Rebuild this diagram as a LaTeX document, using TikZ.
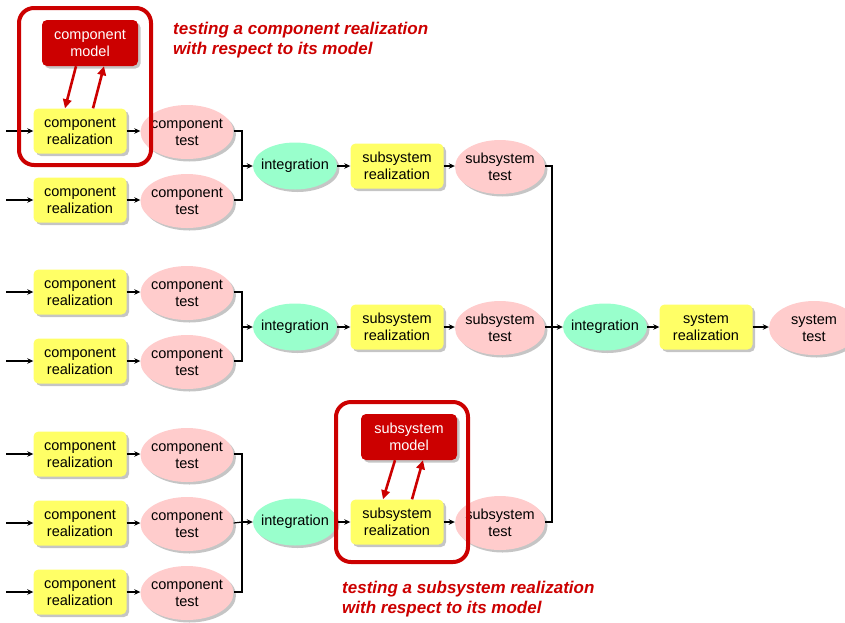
\documentclass[tikz,border=0pt]{standalone}
\usepackage{fontspec}
\setmainfont{Liberation Sans}
\usetikzlibrary{shadows,arrows.meta,calc,shapes.geometric}
\definecolor{realfill}{HTML}{FFFF66}
\definecolor{testfill}{HTML}{FFCCCC}
\definecolor{intfill}{HTML}{99FFCC}
\definecolor{modelred}{HTML}{CC0000}
\tikzset{
  base/.style={inner sep=0pt, align=center, font=\fontsize{14.5}{17}\selectfont,
    drop shadow={shadow xshift=2.5pt, shadow yshift=-2.5pt, fill=black!45}},
  real/.style={base, rectangle, rounded corners=5pt, fill=realfill,
    minimum width=93pt, minimum height=45pt},
  test/.style={base, ellipse, inner xsep=-3pt, fill=testfill,
    minimum width=90pt, minimum height=54pt},
  integ/.style={base, ellipse, inner xsep=-7pt, fill=intfill,
    minimum width=84pt, minimum height=47pt},
  model/.style={base, rectangle, rounded corners=5pt, fill=modelred, text=white,
    minimum width=96pt, minimum height=46pt},
  frame/.style={draw=modelred, line width=4pt, rounded corners=15pt},
  flow/.style={-{Stealth[length=6pt,width=5.5pt]}, line width=1.2pt},
  joint/.style={line width=1.2pt},
  redarrow/.style={draw=modelred, line width=2.6pt, -{Triangle[length=9pt,width=8.5pt]}},
  note/.style={inner sep=0pt, anchor=base west, align=left, text=modelred,
    font=\fontsize{17}{20}\selectfont\bfseries\itshape},
}
\begin{document}
\begin{tikzpicture}[x=1pt,y=-1pt]
\useasboundingbox (0,0) rectangle (845,622);

% component realizations and tests
\foreach \i/\y in {1/131,2/200,3/292,4/361,5/454,6/523,7/592}{
  \node[real] (cr\i) at (80,\y) {component\\realization};
  \node[test] (ct\i) at (187,\y+1) {component\\test};
  \coordinate (in\i) at (6,\y);
  \draw[flow] (in\i) -- (cr\i);
  \draw[flow] (cr\i) -- (cr\i.east -| ct\i.west);
}

% subsystem chains
\foreach \g/\y in {1/166,2/327,3/522}{
  \node[integ] (int\g) at (295,\y) {integration};
  \node[real] (sr\g) at (397,\y) {subsystem\\realization};
  \node[test] (st\g) at (500,\y+1) {subsystem\\test};
  \draw[flow] (int\g) -- (sr\g);
  \draw[flow] (sr\g) -- (sr\g.east -| st\g.west);
}

% collecting brackets in front of each integration
\coordinate (j1) at (242,166);
\coordinate (j2) at (242,327);
\coordinate (j3) at (242,522);
\draw[joint] (ct1.east |- cr1) -| (j1) |- (ct2.east |- cr2);
\draw[flow] (j1) -- (int1);
\draw[joint] (ct3.east |- cr3) -| (j2) |- (ct4.east |- cr4);
\draw[flow] (j2) -- (int2);
\draw[joint] (ct5.east |- cr5) -| (j3) |- (ct7.east |- cr7);
\draw[joint] (ct6.east |- cr6) -- (j3);
\draw[flow] (j3) -- (int3);

% system level
\node[integ] (sint) at (605,327) {integration};
\node[real] (sysr) at (706,327) {system\\realization};
\node[test] (syst) at (814,328) {system\\test};
\coordinate (k) at (552,327);
\draw[joint] (st1.east |- sr1) -| (k) |- (st3.east |- sr3);
\draw[joint] (st2.east |- sr2) -- (k);
\draw[flow] (k) -- (sint);
\draw[flow] (sint) -- (sysr);
\draw[flow] (sysr) -- (sysr.east -| syst.west);

% component model check
\node[model] (cm) at (90,43) {component\\model};
\draw[frame] (19,8) rectangle (151,165);
\draw[redarrow] ($(cm.south)+(-14,0)$) -- ($(cr1.north)+(-15,0)$);
\draw[redarrow] ($(cr1.north)+(13,0)$) -- ($(cm.south)+(14,0)$);
\node[note] (n1) at (173,54) {testing a component realization\\with respect to its model};

% subsystem model check
\node[model] (sm) at (409,437) {subsystem\\model};
\draw[frame] (336,402) rectangle (468,562);
\draw[redarrow] ($(sm.south)+(-14,0)$) -- ($(sr3.north)+(-14,0)$);
\draw[redarrow] ($(sr3.north)+(15,0)$) -- ($(sm.south)+(14,0)$);
\node[note] (n2) at (342,613) {testing a subsystem realization\\with respect to its model};
\end{tikzpicture}
\end{document}
